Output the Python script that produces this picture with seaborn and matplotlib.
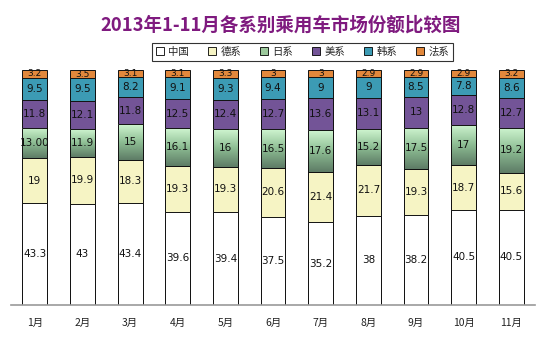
import numpy as np
import pandas as pd
import matplotlib
matplotlib.use("Agg")
import matplotlib.pyplot as plt
import seaborn as sns
from matplotlib.colors import LinearSegmentedColormap
from matplotlib.patches import Patch

months = ["1月", "2月", "3月", "4月", "5月", "6月", "7月", "8月", "9月", "10月", "11月"]
series = ["中国", "德系", "日系", "美系", "韩系", "法系"]
china = [43.3, 43, 43.4, 39.6, 39.4, 37.5, 35.2, 38, 38.2, 40.5, 40.5]
german = [19, 19.9, 18.3, 19.3, 19.3, 20.6, 21.4, 21.7, 19.3, 18.7, 15.6]
japan = [13.00, 11.9, 15, 16.1, 16, 16.5, 17.6, 15.2, 17.5, 17, 19.2]
usa = [11.8, 12.1, 11.8, 12.5, 12.4, 12.7, 13.6, 13.1, 13, 12.8, 12.7]
korea = [9.5, 9.5, 8.2, 9.1, 9.3, 9.4, 9, 9, 8.5, 7.8, 8.6]
france = [3.2, 3.5, 3.1, 3.1, 3.3, 3, 3, 2.9, 2.9, 2.9, 3.2]
label_override = {("日系", "1月"): "13.00"}

colors = {"中国": "#FFFFFF", "德系": "#F6F4C4", "日系": "#9CC99C",
          "美系": "#735497", "韩系": "#3C9BB4", "法系": "#E2883C"}

sns.set_theme(style="white")
plt.rcParams['font.family'] = ['Noto Sans CJK SC', 'DejaVu Sans']

data = pd.DataFrame({"月": months, "中国": china, "德系": german, "日系": japan,
                     "美系": usa, "韩系": korea, "法系": france})
vals = data[series].to_numpy(dtype=float)
norm = vals / vals.sum(axis=1, keepdims=True) * 100
cum = np.cumsum(norm, axis=1)

fig = plt.figure(figsize=(5.5, 3.44), dpi=100)
ax = fig.add_axes([0.02, 0.1134, 0.953, 0.683])

width = 0.52
patches_by_series = {}
for j in range(len(series) - 1, -1, -1):
    s = series[j]
    df = pd.DataFrame({"月": months, "top": cum[:, j]})
    n_before = len(ax.patches)
    sns.barplot(data=df, x="月", y="top", color=colors[s], saturation=1,
                edgecolor="#111111", linewidth=0.7, width=width, ax=ax, order=months)
    patches_by_series[s] = ax.patches[n_before:]

# gradient for 日系 segments
cmap = LinearSegmentedColormap.from_list("jp", ["#5E7C66", "#8DBD93", "#CFF5D0"])
grad = np.linspace(0, 1, 100).reshape(-1, 1)
for i, p in enumerate(patches_by_series["日系"]):
    x0 = p.get_x()
    w = p.get_width()
    y0 = cum[i, 1]
    y1 = cum[i, 2]
    im = ax.imshow(grad, extent=[x0, x0 + w, y0, y1], origin="lower", cmap=cmap,
                   aspect="auto", zorder=p.get_zorder() + 0.1)
    im.set_clip_path(p)
    ax.add_patch(plt.Rectangle((x0, y0), w, y1 - y0, fill=False, edgecolor="#111111",
                               linewidth=0.7, zorder=p.get_zorder() + 0.2))

# labels
for i, m in enumerate(months):
    for j, s in enumerate(series):
        bottom = cum[i, j - 1] if j > 0 else 0
        mid = (bottom + cum[i, j]) / 2
        txt = label_override.get((s, m), f"{vals[i, j]:g}")
        fs = 6.5 if s == "法系" else 7.5
        ax.text(i, mid, txt, ha="center", va="center", fontsize=fs,
                color="#111111", zorder=10, family=['DejaVu Sans'])

ax.set_xlim(-0.5, 10.5)
ax.set_ylim(0, 100)
ax.set_yticks([])
ax.set_xlabel("")
ax.set_ylabel("")
for side in ["top", "right", "left"]:
    ax.spines[side].set_visible(False)
ax.spines["bottom"].set_color("#999999")
ax.spines["bottom"].set_linewidth(1.2)
ax.tick_params(axis="x", length=0, pad=9, labelsize=7.5, colors="#222222")

fig.text(0.51, 0.927, "2013年1-11月各系别乘用车市场份额比较图", ha="center", va="center",
         fontsize=13.3, fontweight="bold", fontstyle="italic", color="#7F1A7F")

handles = [Patch(facecolor=colors[s], edgecolor="black", linewidth=0.6, label=s) for s in series]
leg = fig.legend(handles=handles, ncol=6, loc="center", bbox_to_anchor=(0.55, 0.849),
                 fontsize=7.5, frameon=True, fancybox=False, handlelength=0.8,
                 handleheight=0.8, handletextpad=0.4, columnspacing=1.8,
                 borderpad=0.35)
leg.get_frame().set_edgecolor("black")
leg.get_frame().set_linewidth(0.8)

fig.savefig("out.png", dpi=100, facecolor="white")
